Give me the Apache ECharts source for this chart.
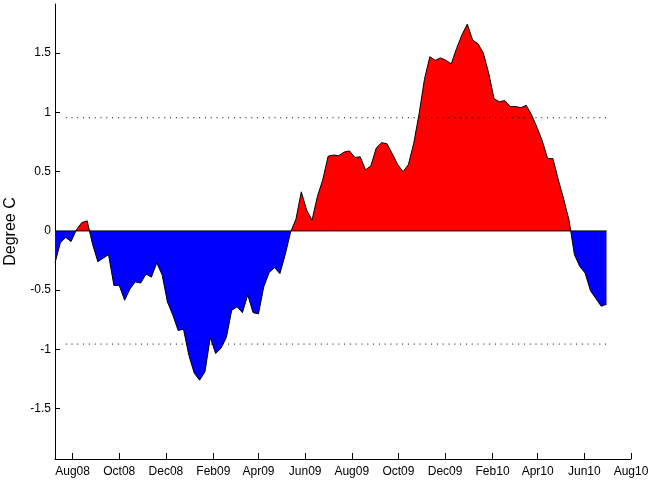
<!DOCTYPE html>
<html>
<head>
<meta charset="utf-8">
<script src="https://cdn.jsdelivr.net/npm/echarts@6/dist/echarts.min.js"></script>
<style>
html,body{margin:0;padding:0;background:#fff;}
#chart{width:652px;height:485px;}
</style>
</head>
<body>
<div id="chart"></div>
<script>
// Weekly anomaly series (Wednesdays), starting 2008-07-09
const startDate = Date.UTC(2008, 6, 9);
const anomaly = [
  -0.27, -0.10, -0.055, -0.09, 0.01, 0.07, 0.085, -0.11, -0.26, -0.23,
  -0.20, -0.46, -0.46, -0.585, -0.49, -0.43, -0.44, -0.365, -0.39, -0.27,
  -0.37, -0.60, -0.71, -0.84, -0.83, -1.05, -1.20, -1.26, -1.19, -0.90,
  -1.035, -0.99, -0.90, -0.67, -0.64, -0.69, -0.54, -0.69, -0.70, -0.47,
  -0.35, -0.31, -0.36, -0.20, -0.01, 0.10, 0.33, 0.175, 0.09, 0.29,
  0.43, 0.63, 0.64, 0.635, 0.665, 0.675, 0.62, 0.625, 0.515, 0.55,
  0.70, 0.745, 0.735, 0.65, 0.56, 0.50, 0.56, 0.74, 0.99, 1.28,
  1.47, 1.44, 1.46, 1.44, 1.41, 1.54, 1.655, 1.745, 1.61, 1.58,
  1.50, 1.33, 1.115, 1.09, 1.10, 1.05, 1.05, 1.04, 1.06, 0.98,
  0.875, 0.76, 0.61, 0.61, 0.43, 0.27, 0.09, -0.20, -0.30, -0.355,
  -0.505, -0.57, -0.635, -0.62
];
const weekDates = anomaly.map((_, i) => startDate + i * 7 * 86400000);

const thresholdLevel = 0.955;

const xTickDates = [
  Date.UTC(2008, 7, 1), Date.UTC(2008, 9, 1), Date.UTC(2008, 11, 1),
  Date.UTC(2009, 1, 1), Date.UTC(2009, 3, 1), Date.UTC(2009, 5, 1),
  Date.UTC(2009, 7, 1), Date.UTC(2009, 9, 1), Date.UTC(2009, 11, 1),
  Date.UTC(2010, 1, 1), Date.UTC(2010, 3, 1), Date.UTC(2010, 5, 1),
  Date.UTC(2010, 7, 1)
];
const xTickLabels = ['Aug08','Oct08','Dec08','Feb09','Apr09','Jun09','Aug09','Oct09','Dec09','Feb10','Apr10','Jun10','Aug10'];
const yTickValues = [-1.5, -1, -0.5, 0, 0.5, 1, 1.5];

const seriesData = weekDates.map((d, i) => [d, anomaly[i]]);
const firstDate = weekDates[0];
const lastDate = weekDates[weekDates.length - 1];

// split point of the fill (value 0) inside the area's bounding box
const maxVal = Math.max(0, Math.max.apply(null, anomaly));
const minVal = Math.min(0, Math.min.apply(null, anomaly));
const zeroOffset = maxVal / (maxVal - minVal);
const areaFill = new echarts.graphic.LinearGradient(0, 0, 0, 1, [
  {offset: 0, color: '#ff0000'},
  {offset: zeroOffset, color: '#ff0000'},
  {offset: zeroOffset, color: '#0000ff'},
  {offset: 1, color: '#0000ff'}
]);

const chart = echarts.init(document.getElementById('chart'), null, {renderer: 'canvas'});
const fontFamily = '"Liberation Sans", Arial, Helvetica, sans-serif';

chart.setOption({
  backgroundColor: '#ffffff',
  animation: false,
  grid: {left: 55, right: 21, top: 4, bottom: 26, containLabel: false, outerBoundsMode: 'none'},
  xAxis: {
    type: 'value',
    min: firstDate,
    max: xTickDates[xTickDates.length - 1],
    axisLine: {show: true, onZero: false, lineStyle: {color: '#000', width: 1}},
    axisTick: {show: true, inside: true, length: 6, customValues: xTickDates, lineStyle: {color: '#000'}},
    axisLabel: {
      show: true, customValues: xTickDates, color: '#000', fontSize: 12, margin: 7, fontFamily: fontFamily,
      formatter: function (v) {
        const idx = xTickDates.indexOf(v);
        return idx >= 0 ? xTickLabels[idx] : '';
      }
    },
    splitLine: {show: false}
  },
  yAxis: {
    type: 'value',
    min: -1.925,
    max: 1.915,
    name: 'Degree C',
    nameLocation: 'middle',
    nameGap: 36,
    nameTextStyle: {color: '#000', fontSize: 16, fontFamily: fontFamily},
    axisLine: {show: true, onZero: false, lineStyle: {color: '#000', width: 1}},
    axisTick: {show: true, inside: true, length: 5, customValues: yTickValues, lineStyle: {color: '#000'}},
    axisLabel: {show: true, customValues: yTickValues, color: '#000', fontSize: 12, margin: 4, fontFamily: fontFamily},
    splitLine: {show: false}
  },
  series: [
    {
      type: 'line',
      data: seriesData,
      showSymbol: false,
      symbol: 'none',
      lineStyle: {color: '#000000', width: 1},
      areaStyle: {color: areaFill, opacity: 1},
      z: 2
    },
    {
      type: 'line',
      data: [[firstDate, 0], [lastDate, 0]],
      showSymbol: false,
      symbol: 'none',
      lineStyle: {color: '#000000', width: 1},
      z: 3,
      silent: true
    },
    {
      type: 'line',
      data: [[weekDates[2], thresholdLevel], [lastDate, thresholdLevel]],
      showSymbol: false,
      symbol: 'none',
      lineStyle: {color: '#000000', width: 1, type: [1, 4.8]},
      z: 4,
      silent: true
    },
    {
      type: 'line',
      data: [[weekDates[2], -thresholdLevel], [lastDate, -thresholdLevel]],
      showSymbol: false,
      symbol: 'none',
      lineStyle: {color: '#000000', width: 1, type: [1, 4.8]},
      z: 4,
      silent: true
    }
  ]
});
</script>
</body>
</html>
